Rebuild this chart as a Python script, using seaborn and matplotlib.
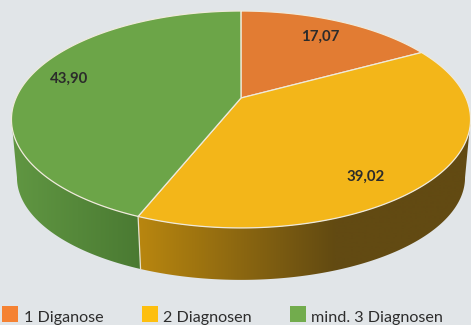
import numpy as np
import matplotlib
matplotlib.use("Agg")
import matplotlib.pyplot as plt
from matplotlib.patches import Polygon
from matplotlib.colors import to_rgb
import seaborn as sns

categories = ["1 Diganose", "2 Diagnosen", "mind. 3 Diagnosen"]
values = [17.07, 39.02, 43.90]

BG = "#e1e5e8"
top_colors = ["#e27c33", "#f3b619", "#6ca548"]
legend_colors = ["#f58233", "#fdbf0f", "#72ac4d"]
# side shading: (x0, colour0, x1, colour1)
side_shade = [
    (300, "#a05a20", 470, "#703a10"),
    (140, "#b8860f", 335, "#624a12"),
    (15, "#609642", 140, "#4a7a32"),
]

sns.set_theme(style="white", rc={"figure.facecolor": BG, "axes.facecolor": BG})
plt.rcParams["font.family"] = ["Lato", "DejaVu Sans"]

fig = plt.figure(figsize=(4.71, 3.25), dpi=100)
ax = fig.add_axes([0, 0, 1, 1])

# perspective projection of the unit disc to pixel space
CX, APEX_Y, K, D, A = 241.0, 98.0, 225.0, 0.198, -84.8


def project(theta, r=1.0):
    u, v = r * np.sin(theta), r * np.cos(theta)
    den = 1 + D * v
    return CX + K * u / den, (APEX_Y + A * v) / den


def project_bottom(theta):
    x, y = project(theta)
    return CX + (x - CX) * 0.976, 178 + (y - 120) * 0.944


edges = np.radians(np.concatenate([[0], np.cumsum(values)]) * 3.6)
front_lo, front_hi = np.radians(101.4), np.radians(258.6)

# visible front side of every wedge, as a clipped horizontal gradient
grid_x = np.linspace(0, 471, 472)
for i in range(3):
    lo, hi = max(edges[i], front_lo), min(edges[i + 1], front_hi)
    if hi <= lo:
        continue
    th = np.linspace(lo, hi, 300)
    xt, yt = project(th)
    xb, yb = project_bottom(th)
    poly = np.r_[np.c_[xt, yt], np.c_[xb, yb][::-1]]
    x0, c0, x1, c1 = side_shade[i]
    c0, c1 = np.array(to_rgb(c0)), np.array(to_rgb(c1))
    f = np.clip((grid_x - x0) / (x1 - x0), 0, 1)[None, :, None]
    im = ax.imshow(c0 + (c1 - c0) * f, extent=(0, 471, 325, 0), aspect="auto",
                   interpolation="bilinear", zorder=2)
    patch = Polygon(poly, closed=True, transform=ax.transData, facecolor="none", edgecolor="none")
    ax.add_patch(patch)
    im.set_clip_path(patch)

ax.set_xlim(0, 471)
ax.set_ylim(325, 0)
ax.axis("off")

# seam between the green and yellow sides
seam = edges[2]
xa, ya = project(seam)
xc, yc = project_bottom(seam)
ax.plot([xa, xc], [ya, yc], color="#e6e2cf", lw=0.9, zorder=3)

# top faces
for i in range(3):
    th = np.linspace(edges[i], edges[i + 1], 300)
    xt, yt = project(th)
    ax.fill(np.r_[CX, xt], np.r_[APEX_Y, yt], facecolor=top_colors[i],
            edgecolor="#efeadb", linewidth=0.9, zorder=4, joinstyle="round")

# value labels
label_xy = [(320, 37), (366, 177), (69, 79)]
for val, (lx, ly) in zip(values, label_xy):
    ax.text(lx, ly, f"{val:.2f}".replace(".", ","), ha="center", va="center",
            fontsize=10.8, fontweight="bold", color="#2b2b2b", zorder=5)

# legend
swatch_x = [2, 142, 290]
text_x = [24, 163, 311]
for name, col, sx, tx in zip(categories, legend_colors, swatch_x, text_x):
    ax.fill([sx, sx + 16, sx + 16, sx], [306, 306, 322, 322], color=col, lw=0, zorder=5)
    ax.text(tx, 322, name, ha="left", va="baseline", fontsize=11.6, color="#2d2d2d", zorder=5)

fig.savefig("out.png", dpi=100, facecolor=BG)
